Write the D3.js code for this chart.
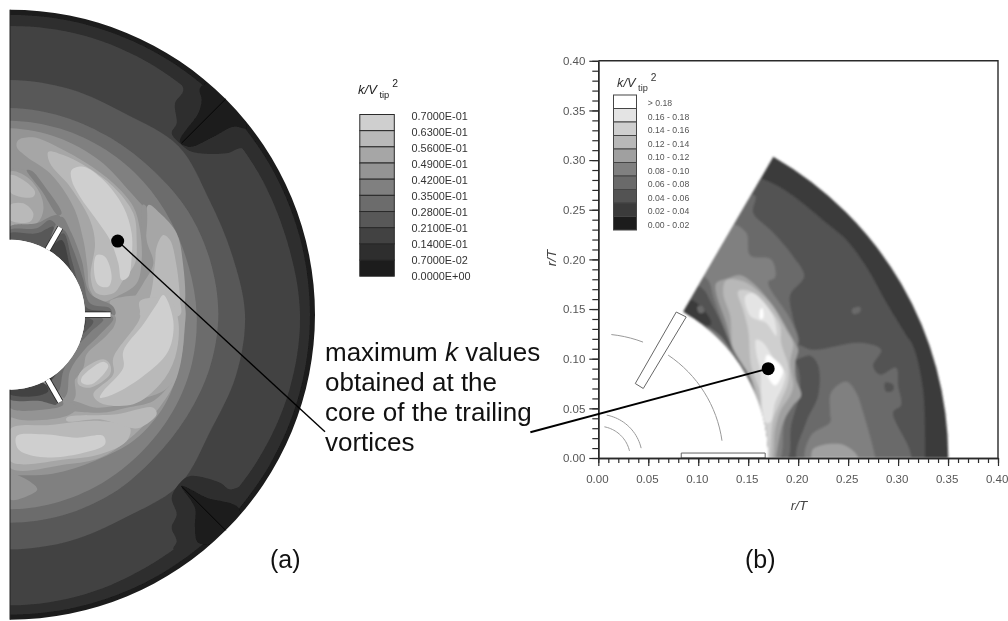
<!DOCTYPE html>
<html><head><meta charset="utf-8">
<script src="https://cdnjs.cloudflare.com/ajax/libs/d3/7.8.5/d3.min.js"></script>
<style>html,body{margin:0;padding:0;background:#fff}svg{display:block}text{font-family:"Liberation Sans",Arial,sans-serif}</style>
</head><body><div id="c"></div>
<script>
// ---------- legends
const levelsA = ["0.7000E-01","0.6300E-01","0.5600E-01","0.4900E-01","0.4200E-01","0.3500E-01","0.2800E-01","0.2100E-01","0.1400E-01","0.7000E-02","0.0000E+00"];
const greysA  = ["#1a1a1a","#2e2e2e","#434343","#585858","#6c6c6c","#808080","#949494","#a6a6a6","#b9b9b9","#cfcfcf"];
const levelsB = ["> 0.18","0.16 - 0.18","0.14 - 0.16","0.12 - 0.14","0.10 - 0.12","0.08 - 0.10","0.06 - 0.08","0.04 - 0.06","0.02 - 0.04","0.00 - 0.02"];
const greysB  = ["#1c1c1c","#3a3a3a","#525252","#6a6a6a","#808080","#a0a0a0","#b8b8b8","#cfcfcf","#e4e4e4","#ffffff"];
const ticksMajor = [0,0.05,0.1,0.15,0.2,0.25,0.3,0.35,0.4];

// ---------- panel (a): tank plan view, contours in mm (tank radius 915, shaft 225)
const ringAngles = [-15,0,15,30,45,60,75,90,105,120,135,150,165,180,195];
const ring1 = [900,900,900,900,900,900,900,900,900,900,900,900,900,900,900];
const ring2 = [866,866,866,862,858,858,860,870,868,862,858,860,868,872,872];
const ring3 = [704,704,700,695,715,690,690,705,702,695,720,700,702,704,704];
const ring4 = [620,620,615,610,610,618,622,625,620,612,610,618,622,624,624];
const ring5 = [582,582,578,572,565,558,555,560,565,568,570,575,580,584,584];
const ring6 = [559,559,550,535,515,520,525,525,530,537,530,507,494,480,480];
const baffleAnglesA = [45,135];
const baffleSpanA = [728,915];
const bladeAnglesA = [30,90,150];
const bladeSpanA = [225,302];

const aWakeUp1 = [[490,739],[520,674],[495,634],[500,574],[485,544],[515,509],[545,489],[650,484],[695,499],[730,454],[680,590],[590,680]];
const aWakeUp0 = [[570,679],[575,644],[565,604],[510,519],[540,504],[610,534],[670,564],[710,560],[660,660],[610,700]];
const aWakeLo1 = [[485,-549],[500,-599],[485,-639],[500,-679],[490,-704],[590,-680],[680,-590],[740,-469],[700,-509],[660,-524],[630,-504],[540,-484],[510,-504]];
const aWakeLo0 = [[515,-514],[555,-579],[555,-639],[565,-684],[640,-680],[690,-650],[685,-579],[590,-549]];

const aPatch6 = [[0,434],[55,429],[100,374],[135,304],[120,274],[80,244],[0,244]];
const aPatch7 = [[0,429],[50,414],[90,364],[100,314],[80,274],[0,264]];
const aPatch8a = [[0,419],[40,404],[75,369],[70,354],[30,354],[0,369]];
const aPatch8b = [[0,329],[40,334],[70,304],[60,279],[0,284]];
const aStripe5 = [[50,434],[65,432],[105,384],[155,304],[145,298],[95,372]];
const aTip5 = [[0,264],[80,274],[120,294],[145,299],[160,274],[120,199],[0,224]];
const aTip4 = [[0,254],[80,259],[120,284],[140,264],[110,199],[0,224]];
const aTip3 = [[0,244],[80,244],[130,264],[110,199],[0,224]];

const aUp7 = [[25,524],[70,532],[150,499],[230,454],[310,394],[370,324],[390,254],[395,164],[380,94],[320,54],[270,39],[240,74],[232,144],[220,224],[190,324],[120,424],[50,474],[20,504]];
const aUp8 = [[115,489],[160,479],[230,444],[310,384],[370,304],[380,224],[375,154],[340,104],[310,64],[260,64],[242,114],[255,214],[240,284],[180,384],[120,454]];
const aUp9 = [[185,434],[220,444],[280,404],[340,324],[365,244],[365,174],[355,114],[335,104],[325,154],[300,224],[260,284],[210,354],[185,404]];
const aUp9b = [[260,179],[285,174],[305,114],[295,84],[265,89],[252,134]];
const aRight7 = [[415,329],[450,304],[500,244],[520,144],[525,39],[515,-1],[355,-1],[370,44],[400,94],[430,154],[410,224]];
const aRight8 = [[460,239],[480,224],[500,144],[510,44],[510,-1],[390,-1],[420,54],[435,154],[440,204]];
const aNotch6 = [[398,330],[408,326],[406,224],[400,214],[394,264]];

const aLo6Blob = [[0,-479],[40,-489],[82,-524],[40,-549],[0,-554]];
const aLo7 = [[515,41],[522,-59],[500,-189],[440,-289],[350,-379],[270,-429],[170,-449],[0,-459],[0,-339],[10,-299],[100,-299],[200,-279],[170,-239],[220,-159],[230,-119],[300,-49],[310,11],[300,41]];
const aLoStripe6 = [[160,-279],[270,-294],[350,-279],[430,-259],[490,-199],[460,-229],[350,-264],[260,-279],[180,-259]];
const aLo8Second = [[0,-344],[120,-331],[270,-319],[360,-339],[350,-379],[270,-419],[170,-434],[0,-439]];
const aLo9Second = [[20,-364],[100,-359],[200,-369],[280,-364],[285,-389],[210,-417],[90,-427],[25,-404]];
const aLo8Mid = [[170,-309],[320,-299],[430,-279],[440,-299],[390,-339],[360,-339],[270,-314],[170,-319]];
const aLo8Main = [[480,41],[505,-19],[495,-129],[450,-209],[370,-269],[270,-264],[250,-239],[310,-179],[310,-129],[390,-9],[390,41]];
const aLo9Main = [[460,59],[490,-19],[475,-109],[400,-184],[310,-239],[270,-249],[280,-229],[340,-159],[340,-109],[400,-29],[440,31]];
const aLo8Small = [[210,-174],[280,-134],[300,-149],[300,-179],[240,-219],[205,-209]];
const aLo9Small = [[215,-189],[280,-141],[295,-154],[245,-209],[215,-204]];

const aCresUp5 = [[155,294],[185,244],[215,164],[240,64],[310,24],[315,-1],[225,-1],[210,84],[170,174],[120,199]];
const aCresUp4 = [[160,254],[190,194],[220,104],[240,34],[300,19],[305,-1],[200,-1],[170,144],[120,194]];
const aCresUp3 = [[160,244],[185,164],[210,74],[232,19],[290,9],[290,-1],[170,-1],[150,144],[120,194]];
const aCresUp2 = [[155,224],[180,144],[205,54],[220,14],[225,-1],[150,0],[130,144],[120,194]];
const aCresLo6 = [[315,-4],[310,-39],[250,-89],[220,-129],[195,-189],[195,-249],[160,-279],[70,-159],[170,-9]];
const aCresLo5 = [[310,-9],[270,-59],[220,-109],[180,-169],[170,-239],[150,-259],[110,-199],[170,-109],[210,-9]];
const aCresLo4 = [[280,-14],[240,-54],[190,-109],[160,-169],[145,-229],[110,-199],[150,-109],[200,-9]];
const aCresLo3 = [[250,-19],[210,-69],[170,-129],[140,-179],[120,-199],[140,-89],[200,-9]];
const aCresLo2 = [[228,-19],[200,-69],[160,-129],[120,-199],[120,-89],[170,-9]];
const aLeft6 = [[0,-304],[170,-304],[200,-279],[160,-249],[110,-204],[0,-224]];
const aLeft5 = [[0,-279],[110,-284],[160,-269],[110,-209],[0,-224]];
const aLeft3 = [[0,-254],[90,-259],[140,-269],[105,-209],[0,-224]];
const aLeft2 = [[0,-239],[80,-244],[115,-229],[100,-205],[0,-224]];

const aLayers = [[1,aWakeUp1],[1,aWakeLo1],[0,aWakeUp0],[0,aWakeLo0],
 [6,aLo6Blob],[6,aPatch6],[7,aPatch7],[8,aPatch8a],[8,aPatch8b],[5,aStripe5],[5,aTip5],[4,aTip4],[3,aTip3],
 [7,aUp7],[7,aRight7],[6,aNotch6],[7,aLo7],[6,aLoStripe6],[8,aUp8],[8,aRight8],[8,aLo8Second],[8,aLo8Mid],[8,aLo8Main],[8,aLo8Small],
 [9,aUp9],[9,aUp9b],[9,aLo9Second],[9,aLo9Main],[9,aLo9Small],
 [5,aCresUp5],[4,aCresUp4],[3,aCresUp3],[2,aCresUp2],[6,aCresLo6],[5,aCresLo5],[4,aCresLo4],[3,aCresLo3],[2,aCresLo2],
 [6,aLeft6],[5,aLeft5],[3,aLeft3],[2,aLeft2]];

// ---------- panel (b): contours in r/T x 1000
const bL3 = [[162,282],[178,275],[195,264],[228,237],[248,220],[268,193],[288,157],[308,124],[315,113],[325,69],[327,1],[327,-5],[100,-5],[100,200],[140,290]];
const bL4Main = [[197,114],[215,109],[262,116],[283,109],[275,93],[282,84],[298,91],[300,73],[303,53],[295,46],[312,-3],[200,-3],[208,36],[220,63],[220,93],[212,103],[195,99]];
const bL4Up = [[157,264],[155,247],[173,229],[195,203],[206,183],[192,164],[195,140],[200,114],[165,100],[120,150],[95,193],[130,260]];
const bL4Inner = [[195,99],[202,70],[193,33],[188,-3],[150,-3],[150,100]];
const bL5Up = [[133,235],[148,227],[152,204],[173,200],[177,182],[170,177],[192,140],[200,117],[195,108],[192,95],[195,70],[186,35],[180,-3],[150,-3],[120,100],[100,180]];
const bL5Blob = [[233,66],[248,77],[258,66],[265,46],[277,1],[277,-3],[208,-3],[213,23],[232,36],[232,46]];
const bL6Blob = [[215,9],[242,14],[258,4],[260,-3],[215,-3]];
const bL6 = [[130,181],[142,184],[155,176],[175,153],[195,119],[200,109],[197,96],[198,79],[203,63],[195,53],[185,36],[178,2],[177,-3],[160,-3],[160,50],[152,79],[138,99],[128,136],[118,166],[118,176]];
const bL7 = [[128,179],[145,178],[172,156],[188,129],[195,116],[192,96],[195,73],[192,63],[183,49],[177,29],[175,2],[173,-3],[160,-3],[160,56],[148,86],[135,109],[132,143],[125,166]];
const bL8 = [[140,168],[152,168],[172,149],[182,133],[183,116],[190,93],[190,76],[182,56],[175,39],[172,2],[172,-3],[160,-3],[162,63],[153,93],[150,129],[145,149]];
const bL9Main = [[158,119],[165,116],[178,96],[187,86],[185,73],[177,56],[172,36],[167,36],[163,66],[162,89],[158,106]];
const bL9Up = [[147,163],[155,166],[175,143],[178,123],[168,136],[160,139],[152,143]];
const bL10Main = [[169,104],[177,99],[185,89],[182,79],[177,73],[170,81],[167,93]];
const bL10Small = [[162,149],[164,151],[165,141],[162,140]];
const bBand4 = [[103,183],[85,149],[122,123],[140,95],[150,72],[160,50],[153,79],[137,106],[127,129],[116,159],[110,179]];
const bBand3 = [[98,173],[85,149],[105,136],[122,123],[133,109],[123,136],[113,156],[106,169]];
const bBand2 = [[92,159],[85,149],[98,139],[110,133],[113,136],[102,153]];
const bDot4 = [[99,152],[104,153],[106,147],[101,146]];
const bBlob3 = [[287,76],[295,74],[295,68],[288,67]];
const bDot4b = [[254,150],[262,152],[262,147],[255,145]];

const bLayers = [[2,bL3],[3,bL4Main],[3,bL4Up],[3,bL4Inner],[4,bL5Up],[4,bL5Blob],[5,bL6Blob],[5,bL6],[6,bL7],[7,bL8],[8,bL9Main],[8,bL9Up],[9,bL10Main],[9,bL10Small],
 [3,bBand4],[2,bBand3],[1,bBand2],[3,bDot4],[2,bBlob3],[3,bDot4b]];

const bBladeFlat = [[83,0],[167,0],[167,5],[83,5]];
const bBladeTilted = [[78,147],[88,142],[45,70],[37,75]];
const bArcs = [[125,84,67],[125,56,6],[44,79,12],[32,79,12]];

// ---------- annotation
const calloutA = [[323,221],[945,-351]];
const calloutB = [[170,90],[-68,26]];
const noteLines = [["maximum ",["k"]," values"],["obtained at the"],["core of the trailing"],["vortices"]];

// ---------- scales
const svg = d3.select("#c").append("svg").attr("width",1008).attr("height",621);
const xA = d3.scaleLinear().domain([0,915]).range([10,315]);
const yA = d3.scaleLinear().domain([-915,915]).range([619.7,9.7]);
const rA = d3.scaleLinear().domain([0,915]).range([0,305]);
const xB = d3.scaleLinear().domain([0,0.4]).range([598.3,998]);
const yB = d3.scaleLinear().domain([0,0.4]).range([458,60.8]);
const rB = d3.scaleLinear().domain([0,0.4]).range([0,400]);
const defs = svg.append("defs");
defs.append("filter").attr("id","soft").append("feGaussianBlur").attr("stdDeviation",0.9);
defs.append("filter").attr("id","softT").append("feGaussianBlur").attr("stdDeviation",0.4);
defs.append("filter").attr("id","softA").append("feGaussianBlur").attr("stdDeviation",0.5);

// ---------- panel (a)
defs.append("clipPath").attr("id","clipA").append("path")
  .attr("transform",`translate(${xA(0)},${yA(0)})`)
  .attr("d",d3.arc()({innerRadius:rA(225),outerRadius:rA(915),startAngle:0,endAngle:Math.PI}));
const gA = svg.append("g").attr("clip-path","url(#clipA)").append("g").attr("filter","url(#softA)");
gA.append("rect").attr("x",xA(0)-5).attr("y",yA(915)-5).attr("width",rA(915)+10).attr("height",rA(1830)+10).attr("fill",greysA[0]);
const ringLine = d3.lineRadial().angle(d=>d[0]*Math.PI/180).radius(d=>rA(d[1])).curve(d3.curveCatmullRomClosed.alpha(0.5));
const polyA = d3.line().x(d=>xA(d[0])).y(d=>yA(d[1])).curve(d3.curveCatmullRomClosed.alpha(0.5));
[[1,ring1],[2,ring2],[3,ring3],[4,ring4],[5,ring5],[6,ring6]].forEach(([lv,radii])=>{
  gA.append("path").attr("transform",`translate(${xA(0)},${yA(0)})`)
    .attr("d",ringLine(ringAngles.map((a,i)=>[a,radii[i]]))).attr("fill",greysA[lv]);
});
gA.selectAll("path.layer").data(aLayers).join("path").attr("class","layer")
  .attr("d",d=>polyA(d[1])).attr("fill",d=>greysA[d[0]]);

const polar = (deg,r)=>[xA(0)+rA(r)*Math.sin(deg*Math.PI/180), yA(0)-rA(r)*Math.cos(deg*Math.PI/180)];
svg.selectAll("line.baffleA").data(baffleAnglesA).join("line").attr("class","baffleA")
  .attr("x1",d=>polar(d,baffleSpanA[0])[0]).attr("y1",d=>polar(d,baffleSpanA[0])[1])
  .attr("x2",d=>polar(d,baffleSpanA[1])[0]).attr("y2",d=>polar(d,baffleSpanA[1])[1])
  .attr("stroke","#050505").attr("stroke-width",1);
[[6.4,"#222"],[4.8,"#fff"]].forEach(([w,c])=>{
  svg.selectAll(null).data(bladeAnglesA).join("line")
    .attr("x1",d=>polar(d,bladeSpanA[0])[0]).attr("y1",d=>polar(d,bladeSpanA[0])[1])
    .attr("x2",d=>polar(d,bladeSpanA[1])[0]).attr("y2",d=>polar(d,bladeSpanA[1])[1])
    .attr("stroke",c).attr("stroke-width",w);
});
svg.append("circle").attr("cx",xA(0)).attr("cy",yA(0)).attr("r",rA(225)).attr("fill","#fff");
svg.append("rect").attr("x",0).attr("y",0).attr("width",xA(0)-0.5).attr("height",621).attr("fill","#fff");
svg.selectAll(null).data([[915,225],[-225,-915]]).join("line")
  .attr("x1",xA(0)).attr("x2",xA(0)).attr("y1",d=>yA(d[0])).attr("y2",d=>yA(d[1]))
  .attr("stroke","#222").attr("stroke-width",1);

// legend a
const bhA = 16.17;
const legA = svg.append("g").attr("filter","url(#softT)");
greysA.slice().reverse().forEach((c,i)=>{
  legA.append("rect").attr("x",359.8).attr("y",114.5+i*bhA).attr("width",34.5).attr("height",bhA).attr("fill",c).attr("stroke","#2a2a2a").attr("stroke-width",1);
});
legA.selectAll("text").data(levelsA).join("text").attr("x",411.5).attr("y",(d,i)=>119.5+i*16.05).attr("font-size",10.9).attr("fill","#333").text(d=>d);
function kTitle(g,x,y,fs,fill){
  const t=g.append("text").attr("x",x).attr("y",y).attr("font-size",fs).attr("fill",fill);
  t.append("tspan").attr("font-style","italic").text("k/");
  t.append("tspan").attr("font-style","italic").text("V");
  t.append("tspan").attr("dy",fs*0.32).attr("font-size",fs*0.72).text(" tip");
  t.append("tspan").attr("dy",-fs*0.8).attr("font-size",fs*0.8).text(" 2");
}
kTitle(legA,358,93.5,13,"#222");

// ---------- panel (b)
const scaleYB = (yB(0)-yB(0.1))/(xB(0.1)-xB(0));
defs.append("clipPath").attr("id","clipB").append("path")
  .attr("transform",`translate(${xB(0)},${yB(0)}) scale(1,${scaleYB})`)
  .attr("d",d3.arc()({innerRadius:rB(0.17),outerRadius:rB(0.35),startAngle:Math.PI/6,endAngle:Math.PI/2}));
const gBo = svg.append("g").attr("filter","url(#soft)");
const gB = gBo.append("g").attr("clip-path","url(#clipB)");
gB.append("rect").attr("x",xB(0)).attr("y",yB(0.4)).attr("width",400).attr("height",yB(0)-yB(0.4)).attr("fill",greysB[1]);
const polyB = d3.line().x(d=>xB(d[0]/1000)).y(d=>yB(d[1]/1000)).curve(d3.curveCatmullRomClosed.alpha(0.5));
gB.selectAll("path.layer").data(bLayers).join("path").attr("class","layer")
  .attr("d",d=>polyB(d[1])).attr("fill",d=>greysB[d[0]]);

// blades and circles
const gBlades = svg.append("g").attr("filter","url(#softT)");
const linePlain = d3.line().x(d=>xB(d[0]/1000)).y(d=>yB(d[1]/1000)).curve(d3.curveLinearClosed);
gBlades.selectAll("path.blade").data([bBladeFlat,bBladeTilted]).join("path").attr("class","blade")
  .attr("d",linePlain).attr("fill","#fff").attr("stroke","#666").attr("stroke-width",1);
const arcLine = d3.line().x(d=>xB(d[0]/1000)).y(d=>yB(d[1]/1000));
bArcs.forEach(([r,a0,a1])=>{
  const pts=d3.range(a0,a1-0.5,-3).map(a=>[r*Math.cos(a*Math.PI/180),r*Math.sin(a*Math.PI/180)]);
  gBlades.append("path").attr("d",arcLine(pts)).attr("fill","none").attr("stroke","#999").attr("stroke-width",1);
});

// axes
const axisColor="#2a2a2a", labelColor="#555";
const gAx = svg.append("g").attr("filter","url(#softT)");
function styleAxis(g){
  g.selectAll("path.domain").attr("stroke",axisColor).attr("stroke-width",1.4);
  g.selectAll(".tick line").attr("stroke",axisColor).attr("stroke-width",1.2);
  g.selectAll(".tick text").attr("fill",labelColor).attr("font-size",11.5).attr("font-family",'"Liberation Sans",Arial,sans-serif');
}
const minorVals=d3.range(0,41).map(d=>d/100);
gAx.append("g").attr("transform",`translate(0,${yB(0)})`).call(d3.axisBottom(xB).tickValues(minorVals).tickSize(5).tickFormat("").tickSizeOuter(0)).call(styleAxis);
gAx.append("g").attr("transform",`translate(0,${yB(0)})`).call(d3.axisBottom(xB).tickValues(ticksMajor).tickSize(8).tickFormat(d3.format(".2f")).tickPadding(9).tickSizeOuter(0)).call(styleAxis).selectAll(".tick text").attr("dx",-1.4);
gAx.append("g").attr("transform",`translate(${xB(0)},0)`).call(d3.axisLeft(yB).tickValues(minorVals).tickSize(6).tickFormat("").tickSizeOuter(0)).call(styleAxis);
gAx.append("g").attr("transform",`translate(${xB(0)},0)`).call(d3.axisLeft(yB).tickValues(ticksMajor).tickSize(9).tickFormat(d3.format(".2f")).tickPadding(4).tickSizeOuter(0)).call(styleAxis);
gAx.append("path").attr("d",`M${xB(0)},${yB(0.4)}H${xB(0.4)}V${yB(0)}`).attr("fill","none").attr("stroke",axisColor).attr("stroke-width",1.4);

function rOverT(g,x,y,rot){
  g.append("text").attr("transform",`translate(${x},${y}) rotate(${rot})`).attr("text-anchor","middle").attr("font-size",13.5).attr("font-style","italic").attr("fill","#444").text("r/T");
}
rOverT(gAx,799,510,0);
rOverT(gAx,556,258,-90);

// legend b
const legB=svg.append("g").attr("filter","url(#softT)");
const bhB=13.5;
greysB.slice().reverse().forEach((c,i)=>{
  legB.append("rect").attr("x",613.5).attr("y",95+i*bhB).attr("width",23).attr("height",bhB).attr("fill",c).attr("stroke","#444").attr("stroke-width",1);
});
legB.selectAll("text").data(levelsB).join("text").attr("x",647.7).attr("y",(d,i)=>106+i*13.5).attr("font-size",8.7).attr("fill","#555").text(d=>d);
kTitle(legB,617,87,12.8,"#333");

// ---------- callouts
[[calloutA,xA,yA,1.1],[calloutB,d=>xB(d/1000),d=>yB(d/1000),1.7]].forEach(([pts,fx,fy,w])=>{
  svg.append("line").attr("x1",fx(pts[0][0])).attr("y1",fy(pts[0][1])).attr("x2",fx(pts[1][0])).attr("y2",fy(pts[1][1])).attr("stroke","#000").attr("stroke-width",w+0.3);
  svg.append("circle").attr("cx",fx(pts[0][0])).attr("cy",fy(pts[0][1])).attr("r",6.5).attr("fill","#000");
});
noteLines.forEach((parts,i)=>{
  const t=svg.append("text").attr("x",325).attr("y",360.7+i*30.2).attr("font-size",26).attr("fill","#111");
  parts.forEach(p=>{
    if(Array.isArray(p)) t.append("tspan").attr("font-style","italic").text(p[0]);
    else t.append("tspan").text(p);
  });
});
svg.append("text").attr("x",270).attr("y",568).attr("font-size",25).attr("fill","#111").text("(a)");
svg.append("text").attr("x",745).attr("y",568).attr("font-size",25).attr("fill","#111").text("(b)");
</script></body></html>
